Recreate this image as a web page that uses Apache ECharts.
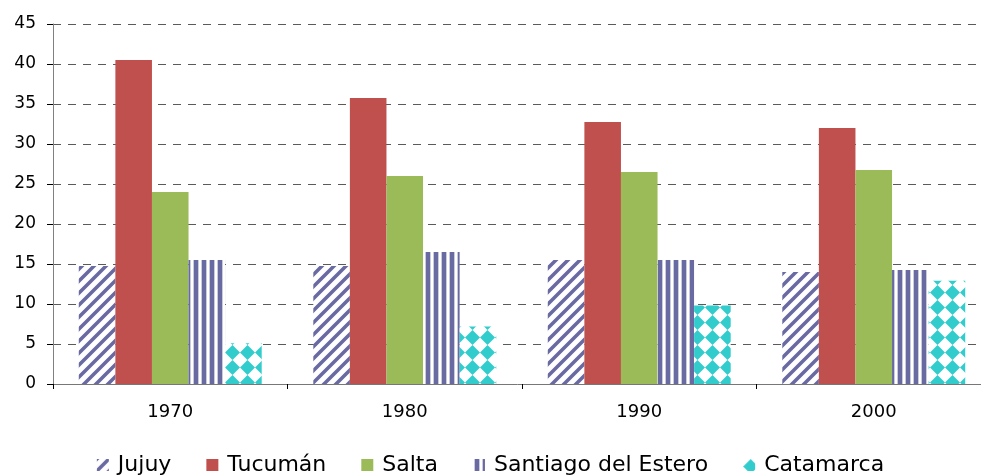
<!DOCTYPE html>
<html>
<head>
<meta charset="utf-8">
<script src="https://cdn.jsdelivr.net/npm/echarts@6/dist/echarts.min.js"></script>
<style>
  html, body { margin: 0; padding: 0; background: #ffffff; }
  #chart { width: 981px; height: 475px; }
</style>
</head>
<body>
<div id="chart"></div>
<script>
// Decades on the category axis
const categories = ['1970', '1980', '1990', '2000'];

// Values per province
const jujuy     = [14.75, 14.75, 15.5, 14];
const tucuman   = [40.5, 35.75, 32.75, 32];
const salta     = [24, 26, 26.5, 26.75];
const santiago  = [15.5, 16.5, 15.5, 14.25];
const catamarca = [5.1, 7.2, 9.8, 12.9];

// Value axis range
const yMin = 0, yMax = 45, yStep = 5;

// Hatched fills drawn on small tiles and repeated
function tile(size, draw) {
  const c = document.createElement('canvas');
  c.width = size; c.height = size;
  const ctx = c.getContext('2d');
  ctx.fillStyle = '#ffffff';
  ctx.fillRect(0, 0, size, size);
  draw(ctx, size);
  return { image: c, repeat: 'repeat' };
}

const stripeColor = '#6a6aa2';

const diagonalFill = tile(12, (ctx, s) => {
  ctx.strokeStyle = stripeColor;
  ctx.lineWidth = 3.6;
  ctx.lineCap = 'square';
  for (const off of [-s, 0, s]) {
    ctx.beginPath();
    ctx.moveTo(off, s);
    ctx.lineTo(off + s, 0);
    ctx.stroke();
  }
});

const verticalFill = tile(8, (ctx, s) => {
  ctx.fillStyle = stripeColor;
  ctx.fillRect(2, 0, 4, s);
  ctx.fillStyle = 'rgba(106,106,162,0.35)';
  ctx.fillRect(1, 0, 1, s);
  ctx.fillRect(6, 0, 1, s);
});

const diamondFill = tile(15, (ctx, s) => {
  const h = s / 2;
  ctx.fillStyle = '#33cccc';
  ctx.beginPath();
  ctx.moveTo(h, 0);
  ctx.lineTo(s, h);
  ctx.lineTo(h, s);
  ctx.lineTo(0, h);
  ctx.closePath();
  ctx.fill();
});

const font = 'DejaVu Sans, Verdana, sans-serif';

function barSeries(name, data, color) {
  return {
    name: name,
    type: 'bar',
    data: data,
    barGap: '0%',
    barCategoryGap: '22%',
    itemStyle: { color: color },
    emphasis: { disabled: true }
  };
}

const chart = echarts.init(document.getElementById('chart'), null, { renderer: 'canvas' });

chart.setOption({
  animation: false,
  backgroundColor: '#ffffff',
  grid: { left: 53, top: 24, width: 938, bottom: 91, containLabel: false, outerBoundsMode: 'none' },
  legend: {
    left: 'center',
    top: 449,
    itemWidth: 12,
    itemHeight: 12,
    itemGap: 35,
    icon: 'rect',
    textStyle: { fontFamily: font, fontSize: 22, color: '#000000', padding: [0, 0, 0, 4] },
    data: ['Jujuy', 'Tucumán', 'Salta', 'Santiago del Estero', 'Catamarca']
  },
  xAxis: {
    type: 'category',
    data: categories,
    axisLine: { show: true, lineStyle: { color: '#777777', width: 1 } },
    axisTick: { show: true, alignWithLabel: false, length: 5, lineStyle: { color: '#000000' } },
    axisLabel: { fontFamily: font, fontSize: 18, color: '#000000', margin: 19 },
    splitLine: { show: false }
  },
  yAxis: {
    type: 'value',
    min: yMin,
    max: yMax,
    interval: yStep,
    axisLine: { show: true, lineStyle: { color: '#808080', width: 1 } },
    axisTick: { show: true, inside: false, length: 6, lineStyle: { color: '#000000' } },
    axisLabel: { fontFamily: font, fontSize: 17, color: '#000000', margin: 17 },
    splitLine: { show: true, lineStyle: { color: '#5a5a5a', width: 1, type: [8, 7] } }
  },
  series: [
    barSeries('Jujuy', jujuy, diagonalFill),
    barSeries('Tucumán', tucuman, '#c0504d'),
    barSeries('Salta', salta, '#9bbb59'),
    barSeries('Santiago del Estero', santiago, verticalFill),
    barSeries('Catamarca', catamarca, diamondFill)
  ]
});
</script>
</body>
</html>
